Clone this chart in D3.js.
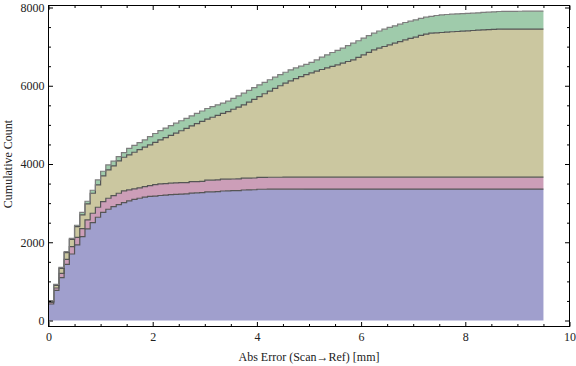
<!DOCTYPE html>
<html>
<head>
<meta charset="utf-8">
<script src="https://cdn.jsdelivr.net/npm/d3@7"></script>
<style>
  body { margin: 0; background: #fff; }
  text { font-family: "Liberation Serif", "Times New Roman", serif; }
</style>
</head>
<body>
<svg id="chart" width="576" height="366"></svg>
<script>
// bins: 0.1 mm wide, from 0 to 9.5
const binStart = 0, binEnd = 9.5, binWidth = 0.1;

// stacked cumulative counts (top edge of each layer), one value per bin
const purpleTop = [
  422, 771, 1095, 1436, 1700, 1931, 2144, 2340, 2502, 2639,
  2766, 2843, 2911, 2962, 3014, 3056, 3095, 3125, 3154, 3170,
  3180, 3195, 3205, 3215, 3222, 3232, 3235, 3258, 3262, 3266,
  3285, 3288, 3292, 3310, 3314, 3318, 3322, 3335, 3338, 3342,
  3355, 3355, 3356, 3356, 3356, 3357, 3357, 3357, 3357, 3358,
  3358, 3358, 3358, 3358, 3358, 3358, 3358, 3358, 3358, 3358,
  3358, 3358, 3358, 3358, 3358, 3358, 3358, 3358, 3358, 3358,
  3358, 3358, 3358, 3358, 3358, 3358, 3358, 3358, 3358, 3358,
  3358, 3358, 3358, 3358, 3358, 3358, 3358, 3358, 3358, 3358,
  3358, 3358, 3358, 3358, 3358
];
const pinkTop = [
  465, 831, 1206, 1564, 1888, 2127, 2349, 2570, 2741, 2894,
  3039, 3125, 3193, 3252, 3312, 3340, 3363, 3389, 3423, 3448,
  3474, 3491, 3500, 3510, 3517, 3524, 3524, 3550, 3550, 3555,
  3586, 3586, 3592, 3611, 3611, 3616, 3620, 3637, 3637, 3642,
  3660, 3660, 3661, 3661, 3661, 3662, 3662, 3662, 3662, 3662,
  3662, 3662, 3662, 3662, 3662, 3662, 3662, 3662, 3662, 3662,
  3662, 3662, 3662, 3662, 3662, 3662, 3662, 3662, 3662, 3662,
  3662, 3662, 3662, 3662, 3662, 3662, 3662, 3662, 3662, 3662,
  3662, 3662, 3662, 3662, 3662, 3662, 3662, 3662, 3662, 3662,
  3662, 3662, 3662, 3662, 3662
];
const tanTop = [
  490, 899, 1334, 1735, 2076, 2400, 2698, 2979, 3253, 3465,
  3696, 3849, 3951, 4079, 4173, 4233, 4300, 4365, 4430, 4490,
  4555, 4616, 4675, 4730, 4787, 4850, 4910, 4974, 5030, 5090,
  5145, 5195, 5245, 5295, 5341, 5400, 5455, 5511, 5580, 5650,
  5724, 5795, 5865, 5935, 6000, 6065, 6125, 6180, 6235, 6285,
  6330, 6375, 6415, 6455, 6495, 6535, 6577, 6620, 6662, 6725,
  6790, 6855, 6918, 6960, 7003, 7045, 7089, 7130, 7174, 7210,
  7242, 7290, 7320, 7344, 7352, 7361, 7370, 7380, 7386, 7394,
  7403, 7412, 7420, 7428, 7435, 7440, 7446, 7448, 7448, 7448,
  7448, 7448, 7448, 7448, 7448
];
const greenTop = [
  507, 925, 1360, 1760, 2101, 2434, 2766, 3048, 3329, 3593,
  3815, 3977, 4071, 4190, 4292, 4400, 4475, 4545, 4616, 4700,
  4780, 4855, 4918, 4980, 5043, 5105, 5168, 5230, 5293, 5355,
  5418, 5465, 5512, 5558, 5605, 5675, 5740, 5810, 5880, 5950,
  6023, 6088, 6153, 6219, 6282, 6345, 6407, 6455, 6500, 6548,
  6595, 6660, 6731, 6790, 6850, 6905, 6961, 7025, 7089, 7150,
  7216, 7280, 7344, 7400, 7446, 7490, 7532, 7575, 7617, 7651,
  7685, 7720, 7753, 7775, 7796, 7810, 7821, 7830, 7838, 7843,
  7850, 7855, 7865, 7873, 7881, 7890, 7898, 7900, 7902, 7903,
  7904, 7905, 7906, 7906, 7906
];

const xMajor = [0, 2, 4, 6, 8, 10];
const yMajor = [0, 2000, 4000, 6000, 8000];
const xLabel = "Abs Error (Scan\u2192Ref) [mm]";
const yLabel = "Cumulative Count";

const layers = [
  { lo: null, hi: purpleTop, fill: "#a09fcd", line: "#555" },
  { lo: purpleTop, hi: pinkTop, fill: "#cc9eb8", line: "#555" },
  { lo: pinkTop, hi: tanTop, fill: "#cbc7a0", line: "#555" },
  { lo: tanTop, hi: greenTop, fill: "#9fcbab", line: "#7d7d7d" }
];

const svg = d3.select("#chart");
const frame = { left: 48.5, right: 569.5, top: 5.5, bottom: 326.5 };

const x = d3.scaleLinear().domain([0, 10]).range([frame.left, frame.right]);
const y = d3.scaleLinear().domain([0, 8000]).range([320.5, 7.5]);

// one row per bin edge; repeat the last bin at the closing edge
const nBins = purpleTop.length;
const rows = d3.range(nBins + 1).map(i => {
  const k = Math.min(i, nBins - 1);
  return { x: i === nBins ? binEnd : binStart + i * binWidth, k: k };
});

const area = d3.area().curve(d3.curveStepAfter).x(d => x(d.x));
const line = d3.line().curve(d3.curveStepAfter).x(d => x(d.x));

const plot = svg.append("g");

layers.forEach(l => {
  plot.append("path")
    .datum(rows)
    .attr("fill", l.fill)
    .attr("d", area
      .y0(d => l.lo ? y(l.lo[d.k]) : y(0))
      .y1(d => y(l.hi[d.k])));
});

layers.forEach(l => {
  plot.append("path")
    .datum(rows)
    .attr("fill", "none")
    .attr("stroke", l.line)
    .attr("stroke-width", 1.2)
    .attr("d", line.y(d => y(l.hi[d.k])));
});

// frame
svg.append("rect")
  .attr("x", frame.left).attr("y", frame.top)
  .attr("width", frame.right - frame.left)
  .attr("height", frame.bottom - frame.top)
  .attr("fill", "none")
  .attr("stroke", "#000")
  .attr("stroke-width", 1);

const xMinor = d3.range(0, 10.01, 0.5).filter(v => xMajor.indexOf(v) < 0);
const yMinor = d3.range(0, 8001, 500).filter(v => yMajor.indexOf(v) < 0);

function ticks(axis, pos, vals, size, labels) {
  const g = svg.append("g")
    .attr("transform", pos)
    .call(axis.tickValues(vals).tickSize(-size).tickSizeOuter(0)
      .tickFormat(labels ? d3.format("d") : ""));
  g.select(".domain").remove();
  g.selectAll("line").attr("stroke", "#000");
  g.selectAll("text").attr("fill", "#222").style("font-size", "12px");
  return g;
}

// left / right
ticks(d3.axisLeft(y).tickPadding(4), `translate(${frame.left},0)`, yMajor, 4.5, true);
ticks(d3.axisLeft(y), `translate(${frame.left},0)`, yMinor, 2.5, false);
ticks(d3.axisRight(y), `translate(${frame.right},0)`, yMajor, 4.5, false);
ticks(d3.axisRight(y), `translate(${frame.right},0)`, yMinor, 2.5, false);
// bottom / top
ticks(d3.axisBottom(x).tickPadding(6), `translate(0,${frame.bottom})`, xMajor, 4.5, true);
ticks(d3.axisBottom(x), `translate(0,${frame.bottom})`, xMinor, 2.5, false);
ticks(d3.axisTop(x), `translate(0,${frame.top})`, xMajor, 4.5, false);
ticks(d3.axisTop(x), `translate(0,${frame.top})`, xMinor, 2.5, false);

svg.append("text")
  .attr("x", (frame.left + frame.right) / 2)
  .attr("y", 361)
  .attr("text-anchor", "middle")
  .attr("fill", "#222")
  .style("font-size", "12px")
  .text(xLabel);

svg.append("text")
  .attr("transform", `translate(12,${(frame.top + frame.bottom) / 2 - 2}) rotate(-90)`)
  .attr("text-anchor", "middle")
  .attr("fill", "#222")
  .style("font-size", "12px")
  .text(yLabel);
</script>
</body>
</html>
